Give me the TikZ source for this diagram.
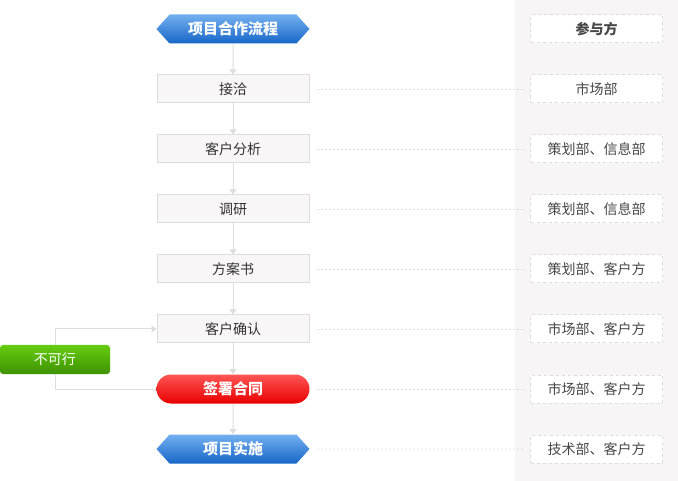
\documentclass[tikz,border=0pt]{standalone}
\usepackage{fontspec}
\setmainfont{Noto Sans CJK SC}
\usepackage{tikz}
\usetikzlibrary{arrows.meta,positioning,shapes.symbols}
\definecolor{linegray}{HTML}{DDDDDD}
\definecolor{boxfill}{HTML}{F8F6F7}
\definecolor{panelgray}{HTML}{F7F5F6}
\definecolor{textgray}{HTML}{333333}
\definecolor{hextop}{HTML}{74B0F0}
\definecolor{hexbottom}{HTML}{1666C8}
\definecolor{redtop}{HTML}{FF5555}
\definecolor{redbottom}{HTML}{E80000}
\definecolor{greentop}{HTML}{66CC11}
\definecolor{greenbottom}{HTML}{3E9200}

\begin{document}
\begin{tikzpicture}[x=1pt,y=1pt,node distance=60pt,
			thick,flow box/.style={rectangle,fill=boxfill,draw=linegray,
				line width=1pt,minimum width=152pt,minimum height=28pt,
				inner sep=0pt,text=textgray,font=\fontsize{14}{16}\selectfont},
			hex node/.style={signal,signal to=west and east,
				signal pointer angle=96,minimum width=153pt,minimum height=29pt,
				inner sep=0pt,top color=hextop,bottom color=hexbottom,
				draw=none,text=white,font=\fontsize{15}{17}\selectfont\bfseries},
			pill node/.style={rectangle,rounded corners=14.5pt,minimum width=153pt,
				minimum height=29pt,inner sep=0pt,top color=redtop,
				bottom color=redbottom,text=white,
				font=\fontsize{15}{17}\selectfont\bfseries},
			part box/.style={rectangle,fill=white,draw=linegray,dashed,
				line width=1pt,minimum width=132pt,minimum height=28pt,
				inner sep=0pt,text=textgray!90!white,font=\fontsize{14}{16}\selectfont},
			link/.style={-{Triangle[width=7pt,length=5pt]},color=linegray,line width=1pt},
			dots/.style={color=linegray,line width=0.8pt,dash pattern=on 2pt off 2pt,
				shorten <=7pt,shorten >=5pt}]
			
			\useasboundingbox (0,0) rectangle (678,-481);
			\fill[panelgray] (515,0) rectangle (678,-481);
			
			% left column
			\node[hex node] (start) at (233,-29) {项目合作流程};
			\node[flow box] (meet) [below of=start] {接洽};
			\node[flow box] (analyse) [below of=meet] {客户分析};
			\node[flow box] (survey) [below of=analyse] {调研};
			\node[flow box] (plan) [below of=survey] {方案书};
			\node[flow box] (confirm) [below of=plan] {客户确认};
			\node[pill node] (sign) [below of=confirm] {签署合同};
			\node[hex node] (run) [below of=sign] {项目实施};
			\node[rectangle,rounded corners=3pt,minimum width=110pt,minimum height=29pt,
				inner sep=0pt,top color=greentop,bottom color=greenbottom,
				text=white,font=\fontsize{14}{16}\selectfont] (nogo) at (55,-359.5) {不可行};
			
			% right column
			\node[part box,font=\fontsize{14}{16}\selectfont\bfseries] (who) at (596.5,-29) {参与方};
			\node[part box] (p1) [below of=who] {市场部};
			\node[part box] (p2) [below of=p1] {策划部、信息部};
			\node[part box] (p3) [below of=p2] {策划部、信息部};
			\node[part box] (p4) [below of=p3] {策划部、客户方};
			\node[part box] (p5) [below of=p4] {市场部、客户方};
			\node[part box] (p6) [below of=p5] {市场部、客户方};
			\node[part box] (p7) [below of=p6] {技术部、客户方};
			
			\path[link]
			(start) edge (meet)
			(meet) edge (analyse)
			(analyse) edge (survey)
			(survey) edge (plan)
			(plan) edge (confirm)
			(confirm) edge (sign)
			(sign) edge (run);
			\draw[link] (nogo.north) |- (confirm.west);
			\draw[color=linegray,line width=1pt] (nogo.south) |- (sign.west);
			
			\path[dots]
			(meet) edge (p1)
			(analyse) edge (p2)
			(survey) edge (p3)
			(plan) edge (p4)
			(confirm) edge (p5)
			(sign) edge (p6)
			(run) edge (p7);
		\end{tikzpicture}
\end{document}
